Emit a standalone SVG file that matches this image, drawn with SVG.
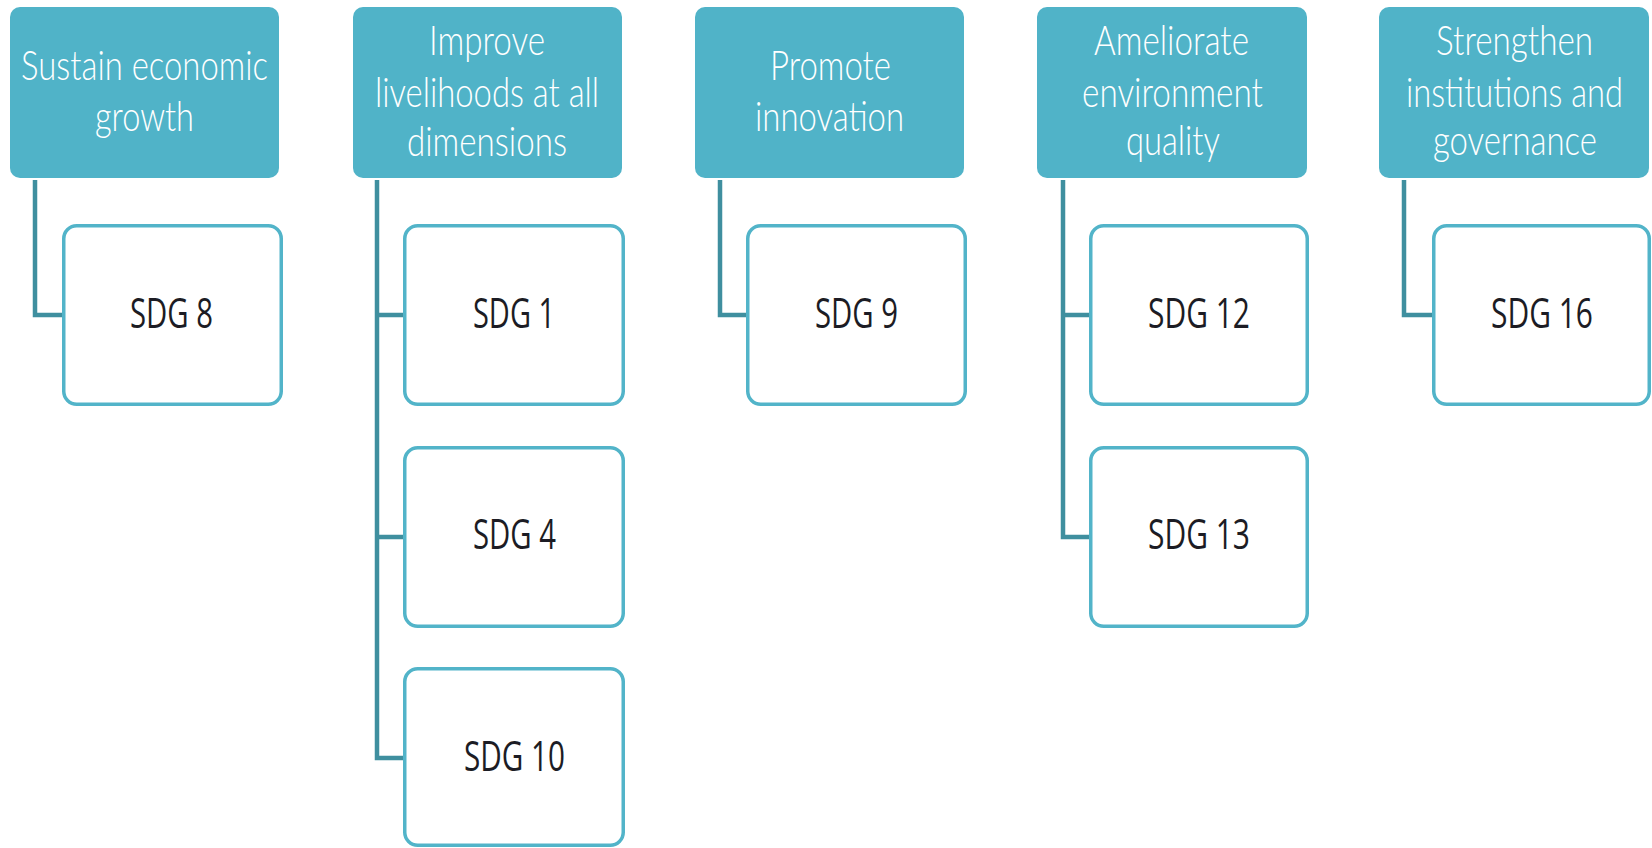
<svg xmlns="http://www.w3.org/2000/svg" width="1652" height="848" viewBox="0 0 1652 848">
<style>
.hdr{fill:#50b3c8;}
.hdr-t{font-family:Lato,"Open Sans","Liberation Sans",sans-serif;font-weight:300;font-size:42px;fill:#ffffff;}
.child{fill:#ffffff;stroke:#52b4c9;stroke-width:3.5;}
.child-t{font-family:"Open Sans","Liberation Sans",sans-serif;font-weight:400;font-size:42px;fill:#1c1c24;}
.conn{fill:none;stroke:#3f8f9f;stroke-width:4.5;stroke-linejoin:miter;stroke-linecap:butt;}
</style>
<rect width="1652" height="848" fill="#ffffff"/>
<g id="connectors">
<path class="conn" d="M35,180 V315 H63"/>
<path class="conn" d="M377,180 V758 H404 M377,315 H404 M377,537 H404"/>
<path class="conn" d="M720,180 V315 H747"/>
<path class="conn" d="M1063,180 V537 H1090 M1063,315 H1090"/>
<path class="conn" d="M1404,180 V315 H1433"/>
</g>
<g id="h1">
<rect class="hdr" x="10" y="7" width="269" height="171" rx="10"/>
<text class="hdr-t" x="21" y="80" textLength="247" lengthAdjust="spacingAndGlyphs">Sustain economic</text>
<text class="hdr-t" x="95" y="131" textLength="99" lengthAdjust="spacingAndGlyphs">growth</text>
</g>
<g id="h2">
<rect class="hdr" x="353" y="7" width="269" height="171" rx="10"/>
<text class="hdr-t" x="429" y="55" textLength="116" lengthAdjust="spacingAndGlyphs">Improve</text>
<text class="hdr-t" x="375" y="107" textLength="224" lengthAdjust="spacingAndGlyphs">livelihoods at all</text>
<text class="hdr-t" x="407" y="156" textLength="160" lengthAdjust="spacingAndGlyphs">dimensions</text>
</g>
<g id="h3">
<rect class="hdr" x="695" y="7" width="269" height="171" rx="10"/>
<text class="hdr-t" x="770" y="80" textLength="121" lengthAdjust="spacingAndGlyphs">Promote</text>
<text class="hdr-t" x="755" y="131" textLength="149" lengthAdjust="spacingAndGlyphs">innovation</text>
</g>
<g id="h4">
<rect class="hdr" x="1037" y="7" width="270" height="171" rx="10"/>
<text class="hdr-t" x="1094" y="55" textLength="155" lengthAdjust="spacingAndGlyphs">Ameliorate</text>
<text class="hdr-t" x="1082" y="107" textLength="181" lengthAdjust="spacingAndGlyphs">environment</text>
<text class="hdr-t" x="1126" y="155" textLength="94" lengthAdjust="spacingAndGlyphs">quality</text>
</g>
<g id="h5">
<rect class="hdr" x="1379" y="7" width="270" height="171" rx="10"/>
<text class="hdr-t" x="1436" y="55" textLength="157" lengthAdjust="spacingAndGlyphs">Strengthen</text>
<text class="hdr-t" x="1406" y="107" textLength="217" lengthAdjust="spacingAndGlyphs">institutions and</text>
<text class="hdr-t" x="1433" y="155" textLength="164" lengthAdjust="spacingAndGlyphs">governance</text>
</g>
<g id="sdg8">
<rect class="child" x="63.75" y="225.75" width="217.5" height="178.5" rx="13"/>
<text class="child-t" x="130" y="328" textLength="83" lengthAdjust="spacingAndGlyphs">SDG 8</text>
</g>
<g id="sdg1">
<rect class="child" x="404.75" y="225.75" width="218.5" height="178.5" rx="13"/>
<text class="child-t" x="473" y="328" textLength="82" lengthAdjust="spacingAndGlyphs">SDG 1</text>
</g>
<g id="sdg4">
<rect class="child" x="404.75" y="447.75" width="218.5" height="178.5" rx="13"/>
<text class="child-t" x="473" y="549" textLength="83" lengthAdjust="spacingAndGlyphs">SDG 4</text>
</g>
<g id="sdg10">
<rect class="child" x="404.75" y="668.75" width="218.5" height="176.5" rx="13"/>
<text class="child-t" x="464" y="771" textLength="101" lengthAdjust="spacingAndGlyphs">SDG 10</text>
</g>
<g id="sdg9">
<rect class="child" x="747.75" y="225.75" width="217.5" height="178.5" rx="13"/>
<text class="child-t" x="815" y="328" textLength="83" lengthAdjust="spacingAndGlyphs">SDG 9</text>
</g>
<g id="sdg12">
<rect class="child" x="1090.75" y="225.75" width="216.5" height="178.5" rx="13"/>
<text class="child-t" x="1148" y="328" textLength="102" lengthAdjust="spacingAndGlyphs">SDG 12</text>
</g>
<g id="sdg13">
<rect class="child" x="1090.75" y="447.75" width="216.5" height="178.5" rx="13"/>
<text class="child-t" x="1148" y="549" textLength="102" lengthAdjust="spacingAndGlyphs">SDG 13</text>
</g>
<g id="sdg16">
<rect class="child" x="1433.75" y="225.75" width="215.5" height="178.5" rx="13"/>
<text class="child-t" x="1491" y="328" textLength="102" lengthAdjust="spacingAndGlyphs">SDG 16</text>
</g>
</svg>
